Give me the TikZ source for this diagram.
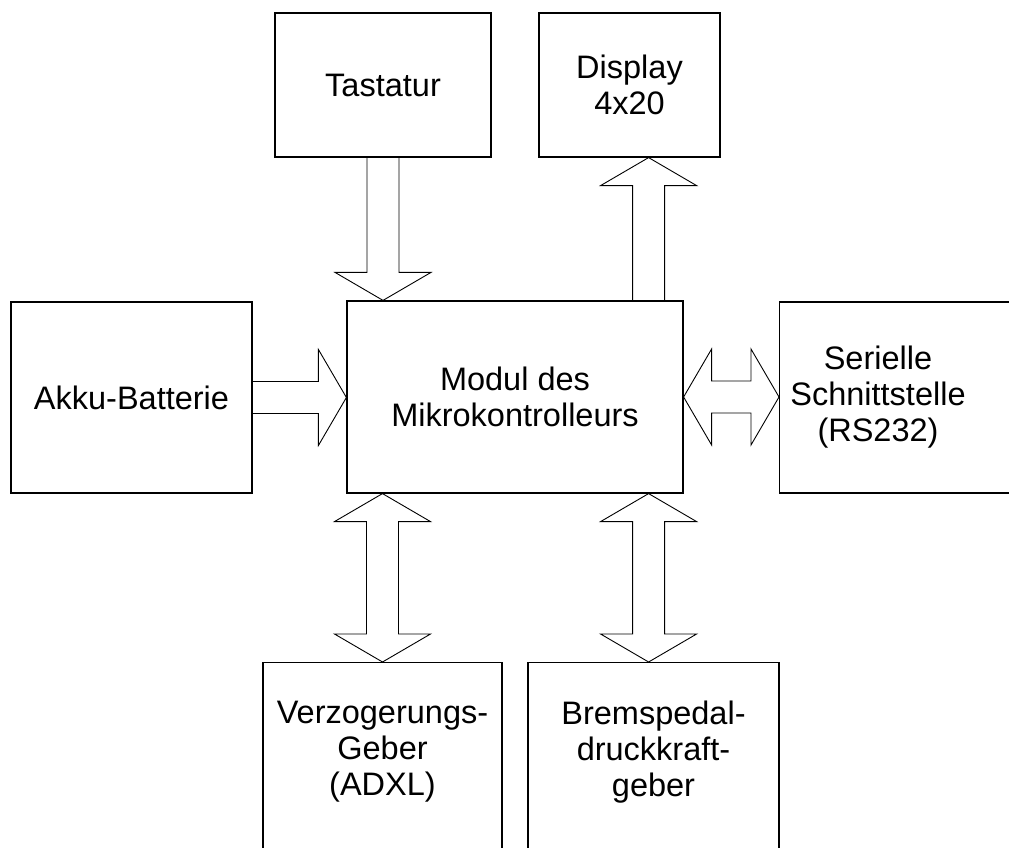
\documentclass[tikz,border=0pt]{standalone}
\usepackage{fontspec}
\setmainfont{Liberation Sans}
\usetikzlibrary{calc}
\def\blockarrow(#1)(#2){%
  \coordinate (hb) at ($(#2)!28pt!(#1)$);
  \draw[arrowline] ($(#1)!16pt!90:(#2)$) -- ($(hb)!16pt!90:(#2)$) -- ($(hb)!48pt!90:(#2)$) -- (#2) -- ($(hb)!48pt!-90:(#2)$) -- ($(hb)!16pt!-90:(#2)$) -- ($(#1)!16pt!-90:(#2)$);}
\def\dblockarrow(#1)(#2){%
  \coordinate (ha) at ($(#1)!28pt!(#2)$);
  \coordinate (hb) at ($(#2)!28pt!(#1)$);
  \draw[arrowline] (#1) -- ($(ha)!48pt!90:(#2)$) -- ($(ha)!16pt!90:(#2)$) -- ($(hb)!16pt!90:(#2)$) -- ($(hb)!48pt!90:(#2)$) -- (#2) -- ($(hb)!48pt!-90:(#2)$) -- ($(hb)!16pt!-90:(#2)$) -- ($(ha)!16pt!-90:(#2)$) -- ($(ha)!48pt!-90:(#2)$) -- cycle;}

\begin{document}
\begin{tikzpicture}[x=1pt, y=1pt,
    box/.style={draw, line width=1.2pt, inner sep=0pt, align=center, font=\fontsize{32.5}{36}\selectfont},
    txt/.style={inner sep=0pt, align=center, font=\fontsize{32.5}{36}\selectfont},
    arrowline/.style={line width=0.9pt, line join=miter}]
	%%%%% START %%%%%
	\useasboundingbox (0,0) rectangle (1009,847);
	
	\node[box, minimum width=216, minimum height=144] (tast) at (383,762) {Tastatur};
	\node[box, minimum width=181, minimum height=144] (disp) at (629.5,762) {Display\\4x20};
	
	\node[box, minimum width=241, minimum height=191] (akku) at (131.5,449.5) {Akku-Batterie};
	\node[box, minimum width=336, minimum height=192] (main) at (515,450) {Modul des\\Mikrokontrolleurs};
	\node[box, minimum width=260, minimum height=191, anchor=west] (ser) at (779,449.5) {};
	\node[txt] (sertxt) at (878,449.5) {Serielle\\Schnittstelle\\(RS232)};
	
	\node[box, minimum width=239, minimum height=240, anchor=north] (verz) at (382.5,185) {};
	\node[txt] (verztxt) at (382.5,95) {Verzogerungs-\\Geber\\(ADXL)};
	\node[box, minimum width=251, minimum height=240, anchor=north] (brems) at (653.5,185) {};
	\node[txt] (bremstxt) at (653.5,95) {Bremspedal-\\druckkraft-\\geber};
	
	\coordinate (tastin) at (tast.south |- main.north);
	\coordinate (dispout) at ($(main.north east)+(-35,0)$);
	\coordinate (dispin) at (dispout |- disp.south);
	\coordinate (akkuin) at (akku.east -| main.west);
	\coordinate (serin) at (main.east -| ser.west);
	\coordinate (verzout) at (verz.north |- main.south);
	\coordinate (bremsout) at ($(main.south east)+(-35,0)$);
	\coordinate (bremsin) at (bremsout |- brems.north);
	
	\blockarrow(tast.south)(tastin)
	\blockarrow(dispout)(dispin)
	\blockarrow(akku.east)(akkuin)
	\dblockarrow(main.east)(serin)
	\dblockarrow(verzout)(verz.north)
	\dblockarrow(bremsout)(bremsin)
	
	%%%%% END %%%%%
\end{tikzpicture}
\end{document}
